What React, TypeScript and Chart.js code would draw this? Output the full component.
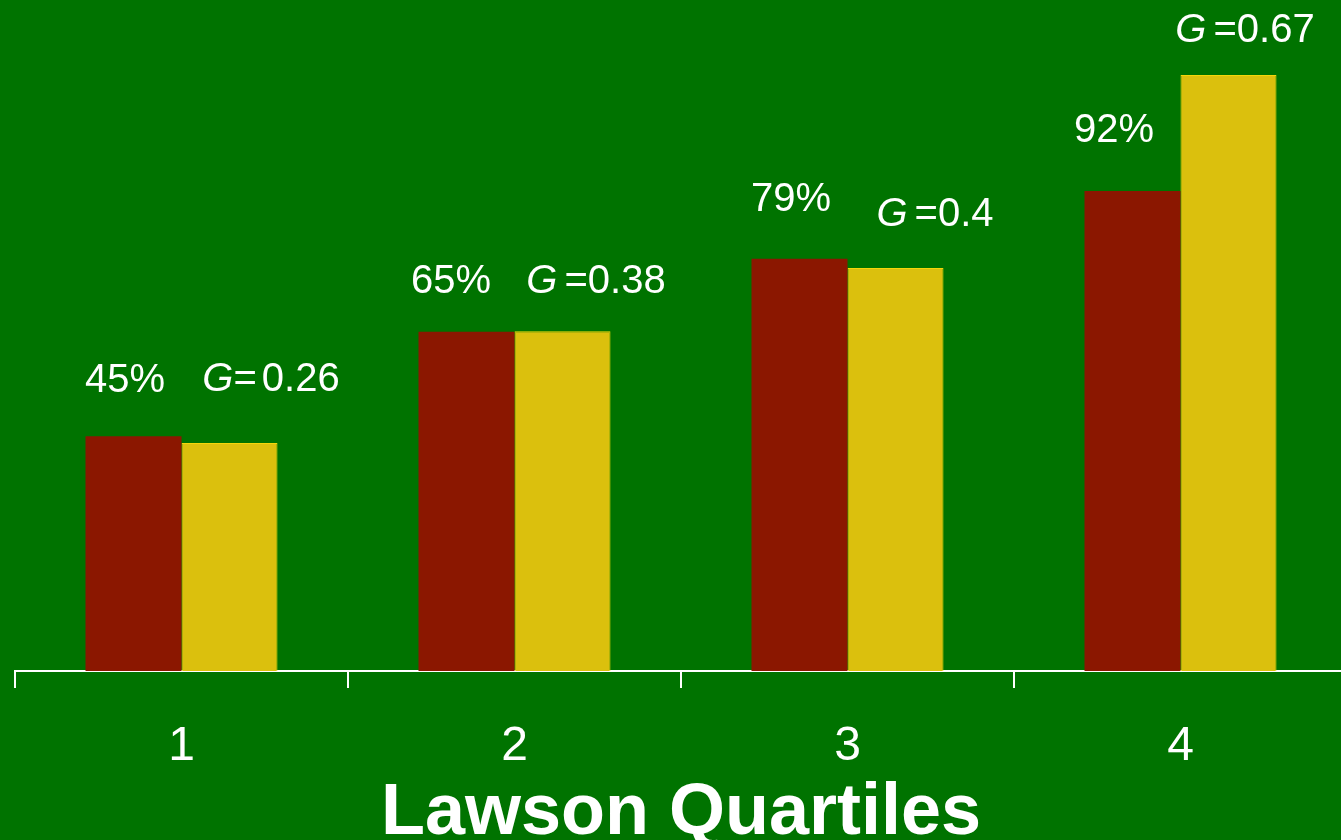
import { useEffect, useRef } from 'react';
import { Chart, registerables } from 'chart.js';

Chart.register(...registerables);

const categories = ['1', '2', '3', '4'];
const percentValues = [45, 65, 79, 92];
const percentLabels = ['45%', '65%', '79%', '92%'];
const giniBarValues = [43.7, 65.1, 77.2, 114.2];
const giniLabels = ['0.26', '0.38', '0.4', '0.67'];
const axisTitle = 'Lawson Quartiles';

// label placement relative to each bar's centre / top, in pixels [dx, dy]
const percentLabelOffsets = [[-8.5, 44.6], [-15.5, 38.8], [-8.5, 47.7], [-18.5, 49.2]];
const giniLabelOffsets = [[41.5, 51.9], [33.5, 38.2], [39.5, 42.4], [16.5, 33.3]];
const giniGapAfterG = [0, 7, 7, 7];
const giniGapAfterEq = [5, 0, 0, 0];

const FAMILY = '"Liberation Sans", Arial, Helvetica, sans-serif';
const BG = '#007300';

const labelPlugin = {
  id: 'barLabels',
  afterDatasetsDraw(chart: any) {
    const ctx = chart.ctx as CanvasRenderingContext2D;
    const font = `40px ${FAMILY}`;
    const italic = `italic 40px ${FAMILY}`;
    ctx.save();
    ctx.fillStyle = '#ffffff';
    ctx.textBaseline = 'alphabetic';
    chart.getDatasetMeta(0).data.forEach((bar: any, i: number) => {
      const [dx, dy] = percentLabelOffsets[i];
      ctx.font = font;
      ctx.textAlign = 'center';
      ctx.fillText(percentLabels[i], bar.x + dx, bar.y - dy);
    });
    chart.getDatasetMeta(1).data.forEach((bar: any, i: number) => {
      const [dx, dy] = giniLabelOffsets[i];
      ctx.font = italic;
      const gW = ctx.measureText('G').width;
      ctx.font = font;
      const eqW = ctx.measureText('=').width;
      const numW = ctx.measureText(giniLabels[i]).width;
      const total = gW + giniGapAfterG[i] + eqW + giniGapAfterEq[i] + numW;
      let x = bar.x + dx - total / 2;
      const y = bar.y - dy;
      ctx.textAlign = 'left';
      ctx.font = italic;
      ctx.fillText('G', x, y);
      x += gW + giniGapAfterG[i];
      ctx.font = font;
      ctx.fillText('=', x, y);
      x += eqW + giniGapAfterEq[i];
      ctx.fillText(giniLabels[i], x, y);
    });
    ctx.restore();
  },
};

export default function App() {
  const canvasRef = useRef<HTMLCanvasElement | null>(null);

  useEffect(() => {
    document.body.style.margin = '0';
    document.body.style.overflow = 'hidden';
    const canvas = canvasRef.current;
    if (!canvas) return;
    const chart = new Chart(canvas, {
      type: 'bar',
      data: {
        labels: categories,
        datasets: [
          {
            data: percentValues,
            backgroundColor: '#8B1700',
            borderWidth: 0,
            categoryPercentage: 0.5766,
            barPercentage: 1,
          },
          {
            data: giniBarValues,
            backgroundColor: '#DBC00D',
            borderColor: '#F5D60A',
            borderWidth: 1,
            categoryPercentage: 0.5766,
            barPercentage: 1,
          },
        ],
      },
      options: {
        animation: false,
        responsive: false,
        layout: { padding: { left: 15, right: 0, top: 3, bottom: 0 } },
        plugins: {
          legend: { display: false },
          tooltip: { enabled: false },
        },
        scales: {
          x: {
            grid: {
              display: true,
              drawOnChartArea: false,
              drawTicks: true,
              tickLength: 17,
              color: '#ffffff',
              lineWidth: 2,
              offset: true,
            },
            border: { display: true, color: '#ffffff', width: 2 },
            ticks: {
              color: '#ffffff',
              font: { family: FAMILY, size: 48, lineHeight: 1 },
              padding: 35,
            },
            title: {
              display: true,
              text: axisTitle,
              color: '#ffffff',
              font: { family: FAMILY, size: 72, weight: 'bold', lineHeight: 0.9 },
              padding: { top: -23.8, bottom: -7 },
            },
          },
          y: { display: false, min: 0, max: 128 },
        },
      },
      plugins: [labelPlugin],
    } as any);
    return () => chart.destroy();
  }, []);

  return (
    <div
      style={{
        position: 'fixed',
        left: 0,
        top: 0,
        width: 1341,
        height: 840,
        overflow: 'hidden',
        background: BG,
      }}
    >
      <canvas ref={canvasRef} width={1347} height={840} style={{ display: 'block', background: BG }} />
    </div>
  );
}
